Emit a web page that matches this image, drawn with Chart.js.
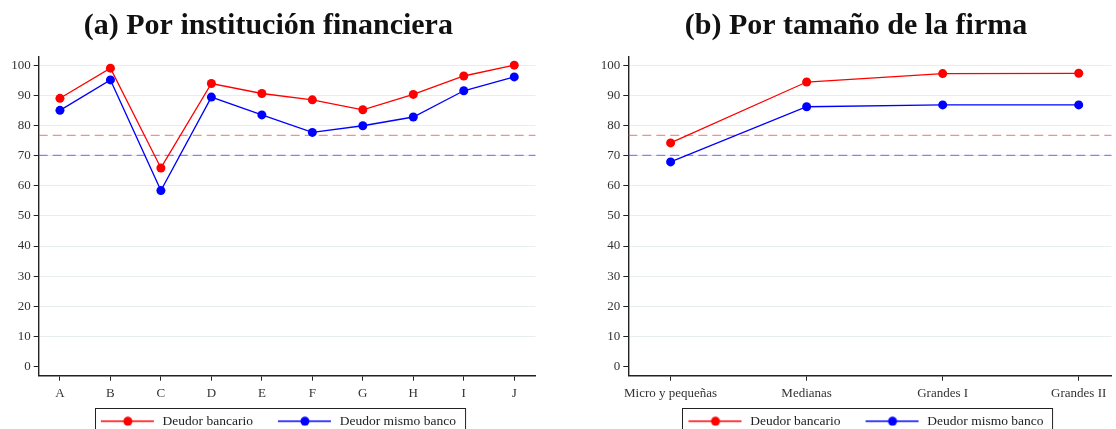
<!DOCTYPE html>
<html>
<head>
<meta charset="utf-8">
<script src="https://cdn.jsdelivr.net/npm/chart.js@4.4.1/dist/chart.umd.min.js"></script>
<style>
    html, body { margin: 0; padding: 0; background: #fff; overflow: hidden; }
    body { width: 1116px; height: 429px; position: relative; }
    .panel { position: absolute; top: 0; height: 438px; }
    #panelA { left: 0; width: 540px; }
    #panelB { left: 596px; width: 520px; }
</style>
</head>
<body>
<div class="panel" id="panelA"><canvas id="chartA"></canvas></div>
<div class="panel" id="panelB"><canvas id="chartB"></canvas></div>
<script>
// Datos
const institutions = ['A', 'B', 'C', 'D', 'E', 'F', 'G', 'H', 'I', 'J'];
const bancarioInst = [89.0, 99.0, 65.9, 93.9, 90.6, 88.5, 85.2, 90.3, 96.4, 100.0];
const mismoBancoInst = [85.0, 95.1, 58.4, 89.4, 83.5, 77.7, 79.9, 82.8, 91.5, 96.1];

const sizes = ['Micro y pequeñas', 'Medianas', 'Grandes I', 'Grandes II'];
const bancarioSize = [74.2, 94.4, 97.2, 97.3];
const mismoBancoSize = [67.9, 86.2, 86.8, 86.8];

// Promedios (lineas punteadas)
const refBancario = 76.7;
const refMismoBanco = 70.1;

const yTicks = [0, 10, 20, 30, 40, 50, 60, 70, 80, 90, 100];
const seriesNames = ['Deudor bancario', 'Deudor mismo banco'];
const titles = ['(a) Por institución financiera', '(b) Por tamaño de la firma'];

const RED = '#ff0000';
const BLUE = '#0000ff';
const SYMBOL_MARGIN = 20;

Chart.defaults.font.family = "'Liberation Serif', 'DejaVu Serif', serif";
Chart.defaults.color = '#333';

// simbolo de leyenda: linea con punto
function makeSymbol(color) {
    const c = document.createElement('canvas');
    c.width = SYMBOL_MARGIN + 55;
    c.height = 10;
    const g = c.getContext('2d');
    g.strokeStyle = color;
    g.lineWidth = 1.3;
    g.beginPath();
    g.moveTo(SYMBOL_MARGIN, 5);
    g.lineTo(SYMBOL_MARGIN + 53, 5);
    g.stroke();
    g.fillStyle = color;
    g.beginPath();
    g.arc(SYMBOL_MARGIN + 27, 5, 4.5, 0, Math.PI * 2);
    g.fill();
    return c;
}
const symbols = [makeSymbol(RED), makeSymbol(BLUE)];

const refLinesPlugin = {
    id: 'refLines',
    beforeDatasetsDraw(chart, args, opts) {
        const { ctx, chartArea, scales } = chart;
        ctx.save();
        ctx.lineWidth = 1.2;
        ctx.setLineDash([9, 5]);
        opts.lines.forEach(l => {
            const py = scales.y.getPixelForValue(l.value);
            ctx.strokeStyle = l.color;
            ctx.beginPath();
            ctx.moveTo(chartArea.left, py);
            ctx.lineTo(chartArea.right, py);
            ctx.stroke();
        });
        ctx.restore();
    }
};

const legendBorderPlugin = {
    id: 'legendBorder',
    afterDraw(chart) {
        const boxes = chart.legend && chart.legend.legendHitBoxes;
        if (!boxes || !boxes.length) return;
        const first = boxes[0];
        const last = boxes[boxes.length - 1];
        const left = first.left + SYMBOL_MARGIN - 6;
        const right = last.left + last.width + 9;
        const top = first.top - 7;
        const bottom = first.top + first.height + 8;
        const ctx = chart.ctx;
        ctx.save();
        ctx.strokeStyle = '#222';
        ctx.lineWidth = 1;
        ctx.strokeRect(Math.round(left) + 0.5, Math.round(top) + 0.5, right - left, bottom - top);
        ctx.restore();
    }
};

function makeChart(canvasId, labels, bancario, mismo, cfg) {
    const ctx = document.getElementById(canvasId).getContext('2d');
    const toPoints = arr => arr.map((v, i) => ({ x: i, y: v }));

    return new Chart(ctx, {
        type: 'line',
        data: {
            datasets: [
                {
                    label: seriesNames[0],
                    data: toPoints(bancario),
                    borderColor: RED,
                    backgroundColor: RED,
                    borderWidth: 1.3,
                    pointRadius: 4.5,
                    pointBorderWidth: 0,
                    pointBackgroundColor: RED
                },
                {
                    label: seriesNames[1],
                    data: toPoints(mismo),
                    borderColor: BLUE,
                    backgroundColor: BLUE,
                    borderWidth: 1.3,
                    pointRadius: 4.5,
                    pointBorderWidth: 0,
                    pointBackgroundColor: BLUE
                }
            ]
        },
        options: {
            responsive: true,
            maintainAspectRatio: false,
            animation: false,
            layout: { padding: { left: 0, right: cfg.padRight, top: 0, bottom: 0 } },
            scales: {
                x: {
                    type: 'linear',
                    min: cfg.xMin,
                    max: cfg.xMax,
                    afterBuildTicks: (scale) => {
                        scale.ticks = labels.map((_, i) => ({ value: i }));
                    },
                    afterFit: (scale) => { scale.height = 33.8; },
                    ticks: {
                        autoSkip: false,
                        maxRotation: 0,
                        padding: 5,
                        font: { size: 13 },
                        color: '#333',
                        callback: (v) => labels[v]
                    },
                    grid: {
                        drawOnChartArea: false,
                        drawTicks: true,
                        tickLength: 5,
                        tickColor: '#222',
                        tickWidth: 1
                    },
                    border: { display: true, color: '#222', width: 1.4 }
                },
                y: {
                    min: -3,
                    max: 102.8,
                    afterBuildTicks: (scale) => {
                        scale.ticks = yTicks.map(v => ({ value: v }));
                    },
                    afterFit: (scale) => { scale.width = cfg.yWidth; },
                    ticks: {
                        padding: 3,
                        font: { size: 13 },
                        color: '#333'
                    },
                    grid: {
                        color: (c) => (c.tick && c.tick.value === 0 ? 'rgba(0,0,0,0)' : '#e7eeee'),
                        lineWidth: 1,
                        drawTicks: true,
                        tickLength: 5,
                        tickColor: '#222',
                        tickWidth: 1
                    },
                    border: { display: true, color: '#222', width: 1.4 }
                }
            },
            plugins: {
                title: {
                    display: true,
                    text: cfg.title,
                    color: '#111',
                    font: { size: 30, weight: 'bold' },
                    padding: { top: 8.5, bottom: 12.2 }
                },
                legend: {
                    position: 'bottom',
                    labels: {
                        usePointStyle: true,
                        pointStyleWidth: SYMBOL_MARGIN + 55,
                        padding: 5,
                        color: '#222',
                        font: { size: 13.5 },
                        generateLabels: (chart) => {
                            const items = Chart.defaults.plugins.legend.labels.generateLabels(chart);
                            items.forEach((it, i) => { it.pointStyle = symbols[i]; });
                            return items;
                        }
                    }
                },
                tooltip: { enabled: false },
                refLines: {
                    lines: [
                        { value: refBancario, color: 'rgba(255, 60, 60, 0.6)' },
                        { value: refMismoBanco, color: 'rgba(60, 60, 255, 0.6)' }
                    ]
                }
            }
        },
        plugins: [refLinesPlugin, legendBorderPlugin]
    });
}

makeChart('chartA', institutions, bancarioInst, mismoBancoInst, {
    title: titles[0], xMin: -0.421, xMax: 9.421, yWidth: 38.7, padRight: 3.3
});
makeChart('chartB', sizes, bancarioSize, mismoBancoSize, {
    title: titles[1], xMin: -0.311, xMax: 3.241, yWidth: 32.3, padRight: 0
});
</script>
</body>
</html>
